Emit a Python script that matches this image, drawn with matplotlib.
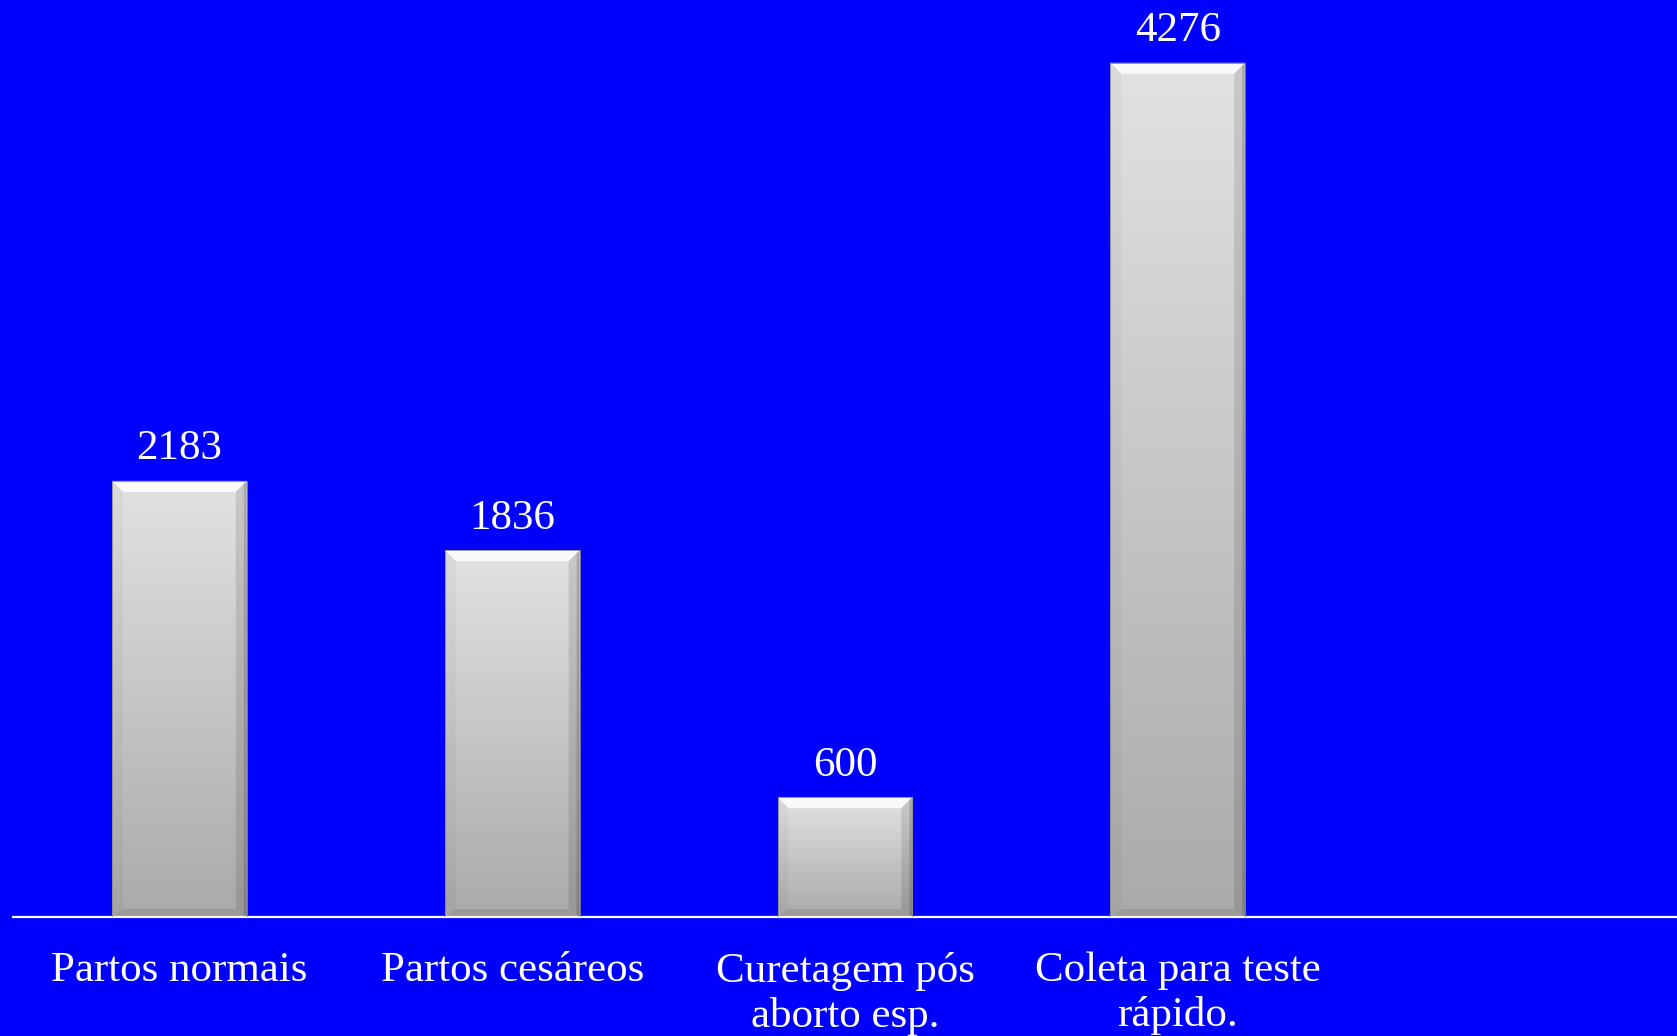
import numpy as np
import matplotlib.pyplot as plt
from matplotlib.patches import Polygon

# dados
categorias = ['Partos normais', 'Partos cesáreos', 'Curetagem pós\naborto esp.',
              'Coleta para teste\nrápido.']
valores = [2183, 1836, 600, 4276]

azul = '#0000FF'
fonte = 'Liberation Serif'

W, H = 1677, 1036
fig = plt.figure(figsize=(W / 100, H / 100), dpi=100, facecolor=azul)
ax = fig.add_axes([13 / W, (H - 917) / H, (W - 13) / W, 917 / H])
ax.set_facecolor(azul)
ax.set_xlim(-0.5, 4.5)
ax.set_ylim(0, 4590)

barras = ax.bar(range(len(valores)), valores, width=0.405, color='none',
                edgecolor='#8a8a8a', linewidth=0.6, zorder=3)

# gradiente vertical das barras
grad = np.linspace(0, 1, 256).reshape(-1, 1)
cmap = plt.matplotlib.colors.LinearSegmentedColormap.from_list('cinza', ['#aaaaaa', '#e2e2e2'])
fig.canvas.draw()
inv = ax.transData.inverted()
for b in barras:
    x0, y0 = b.get_x(), b.get_y()
    x1, y1 = x0 + b.get_width(), y0 + b.get_height()
    im = ax.imshow(grad, extent=(x0, x1, y0, y1), origin='lower', cmap=cmap,
                   aspect='auto', zorder=2)
    im.set_clip_path(b)

    # chanfro em pixels
    (L, B), (R, T) = ax.transData.transform([(x0, y0), (x1, y1)])
    s, t, bb = 11, 11, 8
    faces = [
        ([(L, T), (R, T), (R - s, T - t), (L + s, T - t)], 'white', 0.85),
        ([(L, T), (L + s, T - t), (L + s, B + bb), (L, B)], 'black', 0.03),
        ([(R, T), (R - s, T - t), (R - s, B + bb), (R, B)], 'black', 0.11),
        ([(L, B), (L + s, B + bb), (R - s, B + bb), (R, B)], 'black', 0.09),
    ]
    for pts, cor, a in faces:
        ax.add_patch(Polygon(inv.transform(pts), closed=True, facecolor=cor,
                             alpha=a, edgecolor='none', zorder=2.5))
    # borda externa direita mais escura
    ax.add_patch(Polygon(inv.transform([(R - 3, T - 3), (R, T), (R, B), (R - 3, B + 2)]),
                         closed=True, facecolor='black', alpha=0.15,
                         edgecolor='none', zorder=2.6))

ax.set_xlim(-0.5, 4.5)
ax.set_ylim(0, 4590)

ax.bar_label(barras, labels=[str(v) for v in valores], padding=9,
             color='white', fontsize=31, family=fonte)

ax.set_xticks(range(len(categorias)))
ax.set_xticklabels(categorias, color='white', fontsize=31, family=fonte,
                   linespacing=1.2)
ax.tick_params(axis='x', length=0, pad=25)
ax.set_yticks([])

for lado in ['top', 'left', 'right']:
    ax.spines[lado].set_visible(False)
ax.spines['bottom'].set_color('white')
ax.spines['bottom'].set_linewidth(1.6)

fig.savefig('out.png', dpi=100, facecolor=azul)
